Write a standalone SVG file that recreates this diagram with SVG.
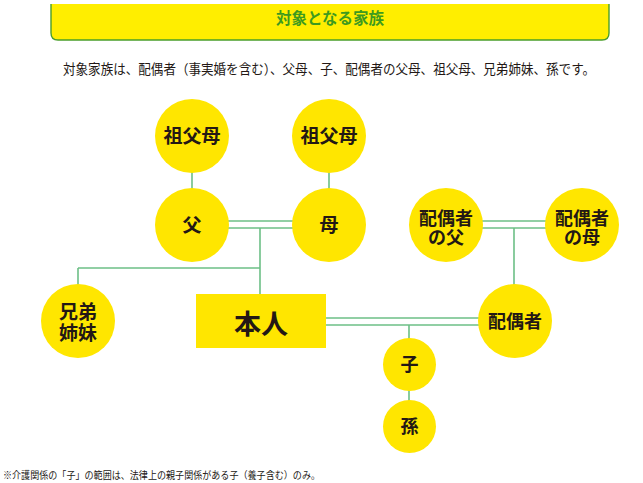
<svg xmlns="http://www.w3.org/2000/svg" width="643" height="483" viewBox="0 0 643 483">
<style>
.jp{font-family:"Noto Sans CJK JP","Noto Sans CJK SC",sans-serif}
.node circle,.node rect{fill:#ffe600}
.label{font-family:"Noto Sans CJK JP","Noto Sans CJK SC",sans-serif;font-weight:bold;font-size:19px;fill:#231815;text-anchor:middle}
.small{font-size:18px}
.big{font-size:27px}
#connectors line{stroke:#6cbf86;stroke-width:1.6;fill:none}
</style>
<rect width="643" height="483" fill="#ffffff"/>
<g id="header">
<path d="M51 4 V33 Q51 40 58 40 H602 Q609 40 609 33 V4 Z" fill="#ffee00"/>
<path d="M51 4 V33 Q51 40 58 40 H602 Q609 40 609 33 V4" fill="none" stroke="#4a9e2a" stroke-width="1.4"/>
<text x="330" y="24" class="jp" font-size="15.5" font-weight="bold" fill="#3d9a1f" text-anchor="middle">対象となる家族</text>
</g>
<text x="63" y="74" class="jp" font-size="13.5" fill="#231815" textLength="532" lengthAdjust="spacingAndGlyphs">対象家族は、配偶者（事実婚を含む）、父母、子、配偶者の父母、祖父母、兄弟姉妹、孫です。</text>
<g id="connectors">
<line x1="192" y1="172" x2="192" y2="189"/>
<line x1="329" y1="172" x2="329" y2="189"/>
<line x1="228" y1="221" x2="293" y2="221"/>
<line x1="228" y1="228" x2="293" y2="228"/>
<line x1="260" y1="228" x2="260" y2="294"/>
<line x1="78" y1="268" x2="260" y2="268"/>
<line x1="78" y1="268" x2="78" y2="285"/>
<line x1="482" y1="221" x2="546" y2="221"/>
<line x1="482" y1="228" x2="546" y2="228"/>
<line x1="514" y1="228" x2="514" y2="285"/>
<line x1="326" y1="318" x2="479" y2="318"/>
<line x1="326" y1="325" x2="479" y2="325"/>
<line x1="409" y1="325" x2="409" y2="339"/>
<line x1="409" y1="390" x2="409" y2="401"/>
</g>
<g id="sofubo-l" class="node"><circle cx="192" cy="136" r="37"/><text x="192" y="143" class="label">祖父母</text></g>
<g id="sofubo-r" class="node"><circle cx="329" cy="136" r="37"/><text x="329" y="143" class="label">祖父母</text></g>
<g id="chichi" class="node"><circle cx="192" cy="225" r="37"/><text x="192" y="232" class="label">父</text></g>
<g id="haha" class="node"><circle cx="329" cy="225" r="37"/><text x="329" y="232" class="label">母</text></g>
<g id="haigusha-chichi" class="node"><circle cx="446" cy="225" r="37"/><text class="label small"><tspan x="446" y="225">配偶者</tspan><tspan x="446" y="244">の父</tspan></text></g>
<g id="haigusha-haha" class="node"><circle cx="582" cy="225" r="37"/><text class="label small"><tspan x="582" y="225">配偶者</tspan><tspan x="582" y="244">の母</tspan></text></g>
<g id="kyodai" class="node"><circle cx="78" cy="321" r="37"/><text class="label"><tspan x="78" y="319">兄弟</tspan><tspan x="78" y="340">姉妹</tspan></text></g>
<g id="honnin" class="node"><rect x="196" y="294" width="130" height="54"/><text x="261" y="334" class="label big">本人</text></g>
<g id="haigusha" class="node"><circle cx="515" cy="321" r="37"/><text x="515" y="328" class="label small">配偶者</text></g>
<g id="ko" class="node"><circle cx="409.5" cy="364.5" r="26.5"/><text x="409.5" y="371" class="label small">子</text></g>
<g id="mago" class="node"><circle cx="409.5" cy="426.5" r="26.5"/><text x="409.5" y="433" class="label small">孫</text></g>
<text x="3" y="479" class="jp" font-size="10" fill="#231815" textLength="317" lengthAdjust="spacingAndGlyphs">※介護関係の「子」の範囲は、法律上の親子関係がある子（養子含む）のみ。</text>
</svg>
